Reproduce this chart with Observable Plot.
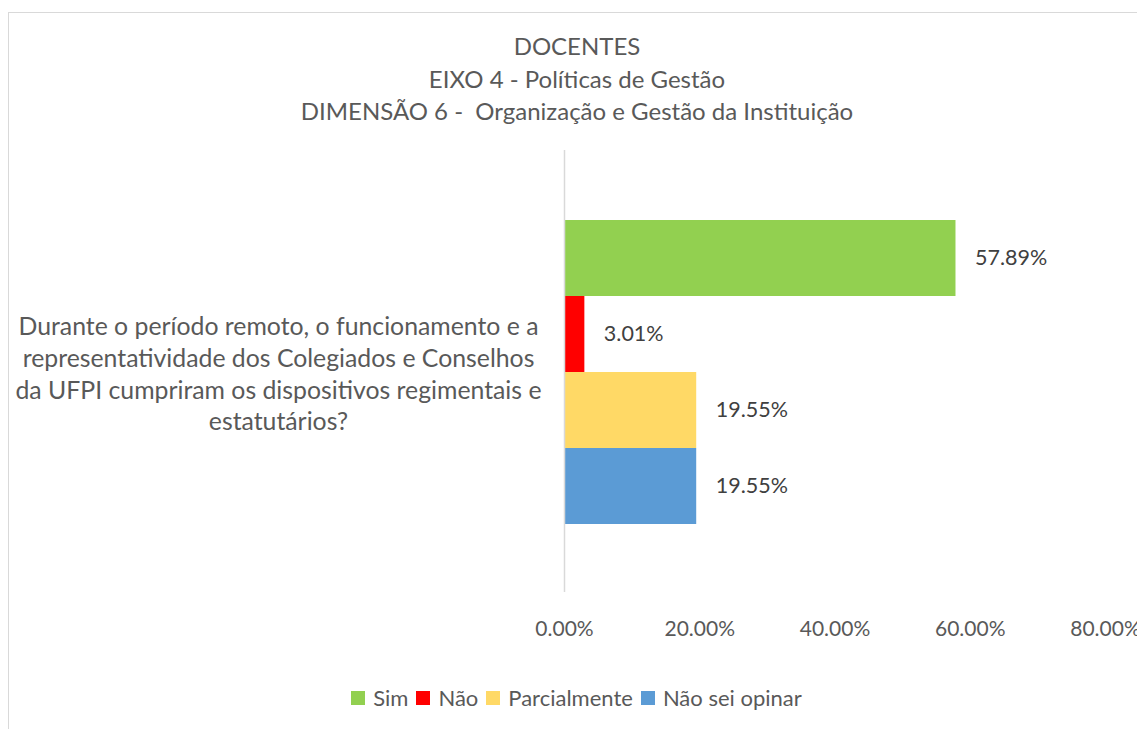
<!DOCTYPE html>
<html><head><meta charset="utf-8">
<script src="https://cdn.jsdelivr.net/npm/d3@7"></script>
<script src="https://cdn.jsdelivr.net/npm/@observablehq/plot@0.6"></script>
<style>
html,body{margin:0;padding:0;background:#fff;overflow:hidden;width:1137px;height:729px;}
#frame{position:absolute;left:8px;top:12px;width:1160px;height:740px;border-left:1px solid #d9d9d9;border-top:1px solid #d9d9d9;}
#title{position:absolute;left:8px;width:1138px;top:30px;text-align:center;font-family:Lato,"Open Sans",sans-serif;font-size:24px;line-height:32.5px;color:#595959;}
#chart{position:absolute;left:0;top:140px;}
#legend{position:absolute;left:0;width:1153px;top:684px;text-align:center;font-family:Lato,"Open Sans",sans-serif;font-size:22px;color:#595959;line-height:26px;}
.item{display:inline-flex;align-items:center;margin:0 4px;}
.sw{display:inline-block;width:14px;height:14px;margin-right:8px;}
</style>
</head><body>
<div id="frame"></div>
<div id="title"></div>
<div id="chart"></div>
<div id="legend"></div>
<script>
const titleLines = ["DOCENTES", "EIXO 4 - Políticas de Gestão", "DIMENSÃO 6 -  Organização e Gestão da Instituição"];
const questionLines = ["Durante o período remoto, o funcionamento e a", "representatividade dos Colegiados e Conselhos", "da UFPI cumpriram os dispositivos regimentais e", "estatutários?"];
const series = ["Sim", "Não", "Parcialmente", "Não sei opinar"];
const values = [57.89, 3.01, 19.55, 19.55];
const colors = ["#92D050", "#FF0000", "#FFD966", "#5B9BD5"];
const xTicks = [0, 20, 40, 60, 80];

const category = questionLines.join(" ");
const data = series.map((s, i) => ({category, series: s, value: values[i]}));

document.getElementById("title").innerHTML = titleLines.map(t => `<div>${t.replace(/  /g, " &nbsp;")}</div>`).join("");

const fmt = d => d.toFixed(2) + "%";

const chart = Plot.plot({
  width: 1137,
  height: 510,
  marginTop: 12,
  marginBottom: 58,
  marginLeft: 564,
  marginRight: 32,
  style: {fontFamily: "Lato, 'Open Sans', sans-serif", background: "transparent", overflow: "visible"},
  x: {domain: [0, 80], ticks: xTicks},
  y: {domain: series, paddingInner: 0, paddingOuter: 0.885, axis: null},
  fy: {domain: [category], padding: 0},
  color: {domain: series, range: colors},
  marks: [
    Plot.barX(data, {fy: "category", y: "series", x: "value", fill: "series"}),
    Plot.ruleX([0], {stroke: "#d9d9d9", strokeWidth: 1.5, insetTop: -2}),
    Plot.text(data, {fy: "category", y: "series", x: "value", text: d => fmt(d.value), textAnchor: "start", dx: 19, fontSize: 21.5, fill: "#404040"}),
    Plot.axisX({ticks: xTicks, tickSize: 0, tickPadding: 29, tickFormat: fmt, fontSize: 21, color: "#595959", label: null}),
    Plot.axisFy({anchor: "left", tickSize: 0, tickPadding: 0, textAnchor: "middle", dx: -286, dy: 0,
      tickFormat: () => questionLines.join("\n"), fontSize: 24.8, lineHeight: 1.28, fill: "#595959", label: null})
  ]
});
document.getElementById("chart").appendChild(chart);

document.getElementById("legend").innerHTML = series.map((s, i) =>
  `<span class="item"><span class="sw" style="background:${colors[i]}"></span>${s}</span>`).join("");
</script>
</body></html>
